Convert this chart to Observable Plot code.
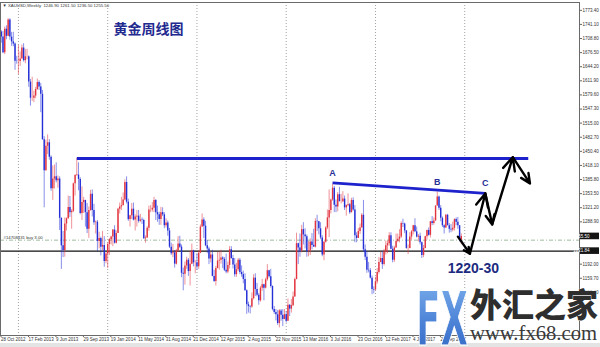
<!DOCTYPE html>
<html>
<head>
<meta charset="utf-8">
<script src="https://cdn.jsdelivr.net/npm/d3@7"></script>
<script src="https://cdn.jsdelivr.net/npm/@observablehq/plot@0.6"></script>
<style>
  html, body { margin: 0; padding: 0; background: #fff; }
  #wrap { position: relative; width: 600px; height: 347px; overflow: hidden; background: #e4e4e4; }
  #chart { position: absolute; left: 0; top: 0; }
  #brand { position: absolute; left: 0; top: 0; pointer-events: none; }
</style>
</head>
<body>
<div id="wrap">
  <div id="chart"></div>
  <svg id="brand" width="600" height="347">
    <defs>
      <linearGradient id="fxFill" x1="0" y1="0" x2="0" y2="1">
        <stop offset="0" stop-color="#7fb2ee"/>
        <stop offset="0.55" stop-color="#4b82d6"/>
        <stop offset="1" stop-color="#2f62c0"/>
      </linearGradient>
    </defs>
    <text x="416" y="345" font-family="DejaVu Sans, sans-serif" font-weight="bold" font-size="74"
          textLength="52" lengthAdjust="spacingAndGlyphs" fill="url(#fxFill)" stroke="#ffffff" stroke-width="1.2">FX</text>
    <text x="470" y="317" font-family="Noto Sans CJK SC, sans-serif" font-weight="900" font-size="33"
          textLength="128" lengthAdjust="spacingAndGlyphs" fill="#2e2e2e" stroke="#ffffff" stroke-width="0.8" paint-order="stroke">外汇之家</text>
    <text x="470" y="340" font-family="Liberation Serif, serif" font-size="21"
          textLength="127" lengthAdjust="spacingAndGlyphs" fill="#3a3a3a">www.fx68.com</text>
  </svg>
</div>
<script>
// XAUUSD weekly candles, one entry per week (weeks start on Sunday).
const symbol = "XAUUSD,Weekly";
const firstWeek = "2012-10-21";
const firstOpen = 1724;

const highs = [
  // 2012
  1727,1725,1735,1738,1754,1754,1723,1723,1699,1668,1693,
  // 2013
  1678,1694,1697,1684, 1684,1669,1615,1620, 1588,1597,1616,1612,1606, 1590,1484,1476,1488,
  1477,1440,1417,1419, 1424,1394,1392,1298,1267, 1298,1298,1348,1347, 1317,1378,1397,1434,
  1424,1390,1369,1345,1338, 1331,1323,1361,1362, 1329,1291,1292,1265, 1254,1267,1255,1219,1241,
  // 2014
  1251,1256,1271,1280, 1268,1320,1332,1345, 1355,1385,1392,1341,1304, 1331,1332,1305,1315,
  1315,1306,1298,1295, 1257,1278,1325,1326,1333, 1345,1340,1325,1311, 1322,1321,1310,1296,1291,
  1274,1240,1237,1223, 1226,1255,1256,1236, 1183,1197,1208,1205,1221, 1238,1224,1200,1216,
  // 2015
  1223,1282,1307,1298, 1290,1246,1231,1220, 1224,1178,1187,1219,1220, 1224,1209,1207,1215,
  1197,1232,1232,1212,1205, 1194,1205,1205,1188, 1176,1170,1133,1105, 1097,1126,1168,1170,1148,
  1125,1141,1157,1146, 1160,1191,1178,1180, 1142,1095,1088,1086,1088, 1088,1088,1088,1083,
  // 2016
  1112,1099,1111,1128,1160, 1263,1240,1261,1281, 1287,1273,1259,1244, 1250,1262,1272,1296,
  1304,1290,1287,1257,1244, 1278,1316,1362,1341, 1375,1370,1339,1356,1368, 1352,1358,1348,1328,
  1353,1331,1343,1344, 1326,1264,1274,1284,1308, 1338,1236,1221,1196, 1182,1165,1140,1162,
  // 2017
  1182,1207,1219,1221,1226, 1245,1245,1264,1264, 1233,1233,1261,1261, 1271,1289,1295,1286,1269,
  1236,1264,1269,1281, 1296,1277,1260,1263, 1243,1235,1256,1270,1275, 1290,1301,1298,1326,
  1357,1348,1326,1300, 1282,1306,1306,1285,1283, 1288,1296,1298,1299, 1280,1261.5
];

const lows = [
  // 2012
  1698,1674,1672,1706,1713,1705,1691,1690,1636,1650,1626,
  // 2013
  1645,1662,1655,1651, 1660,1597,1554,1565, 1562,1571,1590,1590,1539, 1476,1321,1405,1443,
  1430,1359,1338,1364, 1378,1366,1269,1180,1207, 1208,1268,1295,1299, 1272,1310,1348,1393,
  1360,1305,1292,1308,1277, 1262,1251,1313,1300, 1281,1261,1221,1227, 1211,1222,1185,1193,1182,
  // 2014
  1212,1236,1232,1238, 1238,1263,1307,1315, 1326,1337,1330,1290,1277, 1294,1291,1268,1277,
  1286,1287,1283,1249, 1240,1251,1267,1310,1311, 1310,1292,1288,1281, 1281,1301,1273,1275,1256,
  1228,1212,1207,1183, 1190,1219,1228,1161, 1131,1144,1180,1164,1142, 1191,1186,1170,1178,
  // 2015
  1180,1216,1276,1251, 1232,1216,1191,1195, 1163,1150,1142,1181,1178, 1192,1182,1175,1170,
  1170,1181,1203,1181,1162, 1162,1175,1168,1162, 1147,1130,1077,1080, 1078,1091,1110,1118,1117,
  1098,1105,1130,1108, 1135,1153,1160,1137, 1085,1077,1062,1052,1046, 1061,1049,1065,1057,
  // 2016
  1061,1072,1080,1095,1116, 1156,1191,1208,1218, 1236,1227,1208,1209, 1212,1225,1231,1229,
  1267,1259,1248,1209,1200, 1240,1271,1253,1307, 1336,1310,1310,1312,1335, 1330,1333,1315,1302,
  1323,1306,1309,1313, 1241,1241,1251,1260,1275, 1219,1200,1171,1172, 1158,1122,1124,1131,
  // 2017
  1146,1169,1195,1180,1188, 1213,1216,1233,1225, 1195,1196,1228,1241, 1241,1251,1276,1262,1226,
  1214,1227,1247,1259, 1264,1252,1243,1236, 1205,1207,1227,1247,1256, 1252,1280,1281,1290,
  1325,1315,1289,1276, 1261,1274,1280,1263,1264, 1266,1268,1280,1272, 1243,1236.5
];

const closes = [
  // 2012
  1712,1676,1730,1714,1751,1712,1701,1696,1657,1656,1656,
  // 2013
  1662,1687,1658,1667, 1667,1609,1572,1572, 1577,1592,1608,1598,1581, 1477,1406,1462,1470,
  1437,1365,1387,1392, 1383,1387,1297,1234,1223, 1284,1296,1322,1310, 1313,1376,1395,1396,
  1386,1308,1333,1338,1310, 1272,1315,1352,1315, 1287,1288,1244,1251, 1231,1235,1198,1215,1237,
  // 2014
  1248,1254,1270,1240, 1262,1318,1323,1326, 1339,1379,1334,1294,1303, 1318,1293,1300,1302,
  1290,1293,1292,1250, 1252,1274,1316,1316,1320, 1338,1310,1305,1294, 1310,1305,1280,1286,1268,
  1231,1216,1218,1192, 1222,1238,1231,1171, 1169,1188,1201,1175,1192, 1222,1195,1195,1186,
  // 2015
  1217,1277,1293,1279, 1234,1227,1204,1213, 1164,1152,1182,1199,1201, 1206,1203,1178,1174,
  1189,1225,1205,1190,1168, 1179,1201,1173,1168, 1157,1131,1099,1095, 1094,1113,1160,1134,1121,
  1108,1137,1145,1137, 1156,1177,1163,1141, 1088,1081,1076,1056,1085, 1075,1065,1076,1061,
  // 2016
  1098,1089,1097,1117,1157, 1239,1229,1222,1271, 1259,1255,1221,1222, 1243,1235,1231,1290,
  1289,1273,1252,1213,1242, 1275,1298,1315,1339, 1366,1327,1323,1351,1335, 1335,1341,1321,1326,
  1328,1310,1338,1316, 1257,1251,1267,1275,1304, 1225,1208,1178,1177, 1160,1134,1133,1151,
  // 2017
  1173,1196,1205,1191,1220, 1234,1239,1257,1226, 1201,1229,1244,1249, 1254,1285,1284,1268,1228,
  1228,1254,1266,1280, 1266,1254,1256,1241, 1212,1228,1255,1269,1258, 1289,1285,1291,1325,
  1346,1320,1297,1280, 1275,1304,1280,1272,1270, 1274,1294,1288,1280, 1246.9,1255.5
];

// Axis ticks
const dateTicks = ["2012-10-28","2013-02-17","2013-06-09","2013-09-29","2014-01-19","2014-05-11",
  "2014-08-31","2014-12-21","2015-04-12","2015-08-02","2015-11-22","2016-03-13","2016-07-03",
  "2016-10-23","2017-02-12","2017-06-04","2017-09-24"];
const priceTicks = [1127.40,1159.70,1192.00,1224.30,1288.90,1321.20,1353.50,1385.80,1418.10,
  1450.40,1482.70,1515.00,1547.30,1579.60,1611.90,1644.20,1676.50,1708.80,1741.10,1773.40];
const gridWeeks = ["2012-12-30","2013-12-29","2014-12-28","2015-12-27","2016-12-25","2017-12-24"];

// Drawn objects on the chart
const supportLevel = 1221.84;
const orderLine = {price: 1247, label: "#14708431 buy 3.00"};
const resistance = {from: "2013-08-25", to: "2018-09-09", price: 1434};
const trendLine = {from: "2016-07-03", fromPrice: 1378, to: "2018-03-18", toPrice: 1354};
const pointLabels = [
  {text: "A", date: "2016-07-03", price: 1378},
  {text: "B", date: "2017-09-03", price: 1357},
  {text: "C", date: "2018-03-18", price: 1354}
];
const forecastPath = [
  {date: "2017-11-26", price: 1255},
  {date: "2018-01-14", price: 1216},
  {date: "2018-03-18", price: 1354},
  {date: "2018-04-15", price: 1283},
  {date: "2018-07-08", price: 1437},
  {date: "2018-09-16", price: 1377}
];
const targetNote = {text: "1220-30", date: "2018-01-28", price: 1182};
const title = "黄金周线图";

// ---- build the table ----
const start = new Date(firstWeek);
const weeks = d3.utcWeek.range(start, d3.utcWeek.offset(start, closes.length));
const candles = closes.map((c, i) => ({
  date: weeks[i],
  open: i === 0 ? firstOpen : closes[i - 1],
  high: highs[i],
  low: lows[i],
  close: c
}));
const last = candles[candles.length - 1];
const fmt2 = d3.format(".2f");
const header = `▼ ${symbol}  ${fmt2(last.open)} ${fmt2(last.high)} ${fmt2(last.low)} ${fmt2(last.close)}`;

const up = candles.filter(d => d.close >= d.open);
const down = candles.filter(d => d.close < d.open);
const RED = "#e2343f", BLUE = "#2430d6";

const segs = d3.pairs(forecastPath).map(([a, b]) => ({
  x1: new Date(a.date), y1: a.price, x2: new Date(b.date), y2: b.price
}));
const D = s => new Date(s);

const chart = Plot.plot({
  width: 600,
  height: 343,
  marginTop: 2,
  marginBottom: 8,
  marginLeft: 0,
  marginRight: 21,
  style: {background: "#ffffff", fontFamily: "Liberation Sans, Arial, sans-serif", fontSize: "4.5px", overflow: "visible"},
  x: {type: "utc", domain: [D("2012-10-17T19:00Z"), D("2019-04-06")]},
  y: {domain: [1028.6, 1791.3]},
  marks: [
    Plot.ruleX(gridWeeks.map(D), {stroke: "#8c8c8c", strokeWidth: 0.8, strokeDasharray: "1,2"}),
    Plot.ruleY([orderLine], {y: "price", stroke: "#86a886", strokeWidth: 0.8, strokeDasharray: "4,2,1,2"}),
    Plot.text([orderLine], {y: "price", text: "label", frameAnchor: "left", dx: 3, dy: -2.6,
      textAnchor: "start", fontSize: 4.3, fill: "#333"}),
    Plot.ruleY([supportLevel], {stroke: "#111", strokeWidth: 1.3}),

    // wicks
    Plot.ruleX(up, {x: "date", y1: "low", y2: "high", stroke: RED, strokeOpacity: 0.6, strokeWidth: 0.9}),
    Plot.ruleX(down, {x: "date", y1: "low", y2: "high", stroke: BLUE, strokeOpacity: 0.6, strokeWidth: 0.9}),
    // bodies
    Plot.ruleX(up, {x: "date", y1: "open", y2: "close", stroke: RED, strokeWidth: 1.4}),
    Plot.ruleX(down, {x: "date", y1: "open", y2: "close", stroke: BLUE, strokeWidth: 1.4}),

    // hand-drawn analysis
    Plot.link([resistance], {x1: d => D(d.from), x2: d => D(d.to), y1: "price", y2: "price",
      stroke: "#1d22cc", strokeWidth: 3.2}),
    Plot.link([trendLine], {x1: d => D(d.from), x2: d => D(d.to), y1: "fromPrice", y2: "toPrice",
      stroke: "#1d22cc", strokeWidth: 2.8}),
    Plot.text(pointLabels, {x: d => D(d.date), y: "price", text: "text", dy: -10,
      fontSize: 9, fontWeight: 600, fill: "#2a2f96"}),
    Plot.arrow(segs, {x1: "x1", y1: "y1", x2: "x2", y2: "y2", stroke: "#000", strokeWidth: 2.4,
      headLength: 9, headAngle: 50}),
    Plot.text([targetNote], {x: d => D(d.date), y: "price", text: "text", fontSize: 14,
      fontWeight: "bold", fill: "#1c2b80", fontFamily: "Liberation Sans, Arial, sans-serif"}),
    Plot.text([title], {frameAnchor: "top-left", dx: 113, dy: 22, lineAnchor: "top", textAnchor: "start",
      fontSize: 14, fontWeight: "bold", fill: "#232a8f", fontFamily: "Noto Sans CJK SC, sans-serif"}),
    Plot.text([header], {frameAnchor: "top-left", dx: 2, dy: 1, lineAnchor: "top", textAnchor: "start",
      fontSize: 4.3, fill: "#333"}),

    // axes
    Plot.axisX({ticks: dateTicks.map(D), tickFormat: d3.utcFormat("%-d %b %Y"), tickSize: 2, tickPadding: 0.5,
      textAnchor: "start", dx: -2, fontSize: 4.5, fill: "#333", stroke: "#666"}),
    Plot.axisY({anchor: "right", ticks: priceTicks, tickFormat: fmt2, tickSize: 2, tickPadding: 1,
      fontSize: 4.5, fill: "#333", stroke: "#666"}),
    Plot.frame({stroke: "#6a6a6a", strokeWidth: 1})
  ]
});

// price tags on the scale: current bid and the support line
const yScale = chart.scale("y");
const tags = d3.select(chart).append("g");
for (const v of [last.close, supportLevel]) {
  const y = yScale.apply(v);
  tags.append("rect").attr("x", 580).attr("y", y - 3.3).attr("width", 19).attr("height", 6.6).attr("fill", "#141414");
  tags.append("text").attr("x", 581.5).attr("y", y).attr("dy", "0.35em")
    .attr("font-size", 4.5).attr("fill", "#fff").text(fmt2(v));
}

document.getElementById("chart").appendChild(chart);
</script>
</body>
</html>
